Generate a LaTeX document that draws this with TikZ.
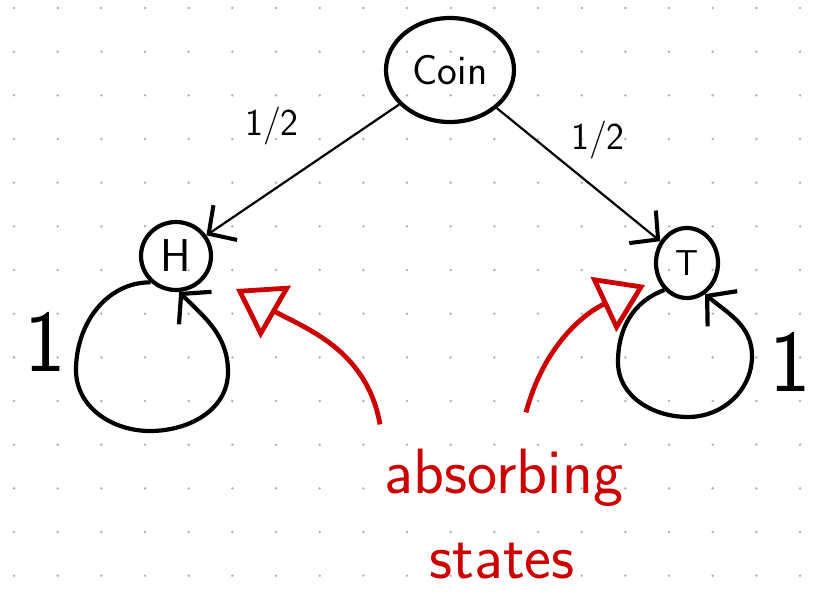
\documentclass[tikz,border=0pt]{standalone}
\usepackage{fontspec}
\usetikzlibrary{arrows.meta,shapes.geometric,calc}
\definecolor{inkred}{HTML}{CC0000}
\definecolor{dotgray}{HTML}{B4B4B4}
\tikzset{
  snode/.style={ellipse, draw, line width=4.2pt, inner sep=0pt,
                font=\sffamily\fontsize{42}{42}\selectfont},
  flip/.style={-{Straight Barb[length=20pt, width=42pt, line width=4pt]}, line width=2.2pt},
  selfloop/.style={-{Straight Barb[length=20pt, width=46pt]}, line width=4.2pt},
  redarr/.style={-{Triangle[open, length=46pt, width=60pt]}, draw=inkred, line width=4.8pt},
  problbl/.style={font=\sffamily\fontsize{38}{38}\selectfont},
  onelbl/.style={font=\sffamily\fontsize{88}{88}\selectfont},
  redtxt/.style={text=inkred, inner sep=0pt, font=\sffamily\fontsize{64}{64}\selectfont},
}
\begin{document}
\begin{tikzpicture}[x=1pt, y=1pt]
  \fill[white] (0,0) rectangle (823,-596);
  \useasboundingbox (0,0) rectangle (823,-596);
  % dotted paper
  \foreach \i in {0,...,18}
    \foreach \j in {0,...,13}
      \fill[dotgray] (14+43.67*\i, -8-43.67*\j) circle (1.4);

  % states
  \node[snode, minimum width=128pt, minimum height=104pt] (coin) at (450,-70) {Coin};
  \node[snode, minimum width=70pt, minimum height=68pt, font=\sffamily\fontsize{46}{46}\selectfont] (H) at (176,-256) {H};
  \node[snode, minimum width=62pt, minimum height=70pt, font=\sffamily\fontsize{36}{36}\selectfont] (T) at (687,-263) {T};
  \coordinate (hl) at (76,-370);
  \coordinate (hb) at (150,-431);
  \coordinate (hr) at (228,-372);
  \coordinate (tl) at (618,-362);
  \coordinate (tb) at (688,-417);
  \coordinate (tr) at (752,-356);

  % the two flips
  \draw[flip] (coin) -- (H);
  \draw[flip] (coin) -- (T);
  \node[problbl] (ph) at (272,-126) {1/2};
  \node[problbl] (pt) at (598,-140) {1/2};

  % staying put forever
  \draw[selfloop] (H.226) to[out=180, in=90] (hl) to[out=-90, in=180] (hb)
                          to[out=0, in=-90] (hr) to[out=90, in=-45] (H.275);
  \draw[selfloop] (T.230) to[out=200, in=90] (tl) to[out=-90, in=180] (tb)
                          to[out=0, in=-90] (tr) to[out=90, in=-40] (T.300);
  \node[onelbl] (oneh) at (45,-342) {1};
  \node[onelbl] (onet) at (790,-362) {1};

  % note
  \node[redtxt, anchor=base] (abs) at (504,-493) {absorbing};
  \node[redtxt, anchor=base] (sts) at (502,-578) {\addfontfeature{LetterSpace=17}states};
  \coordinate (tiph) at (236,-289);
  \coordinate (tipt) at (645,-285);
  \draw[redarr] ([shift={(-124,24)}]abs.north) to[out=100, in=-30] (tiph);
  \draw[redarr] ([shift={(22,36)}]abs.north) to[out=75, in=205] (tipt);
\end{tikzpicture}
\end{document}
